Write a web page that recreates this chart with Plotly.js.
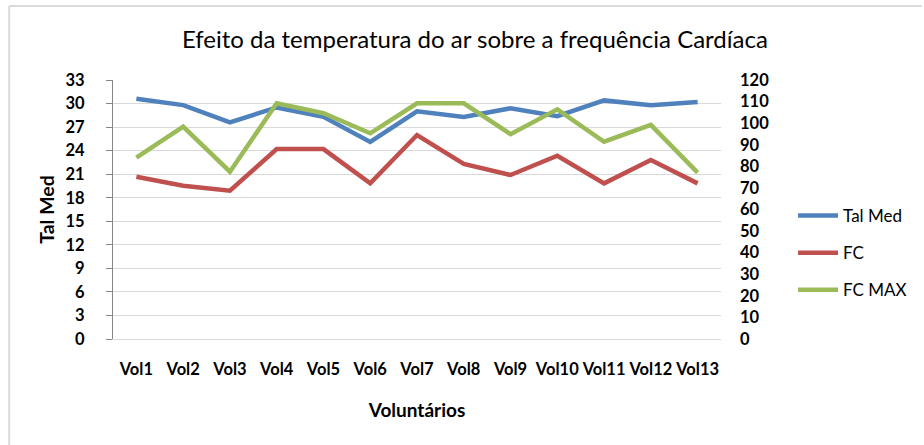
<!DOCTYPE html>
<html>
<head>
<meta charset="utf-8">
<script src="https://cdn.plot.ly/plotly-3.0.1.min.js"></script>
<style>
html,body{margin:0;padding:0;background:#fff;}
#chart{width:924px;height:445px;}
</style>
</head>
<body>
<div id="chart"></div>
<script>
const categories = ["Vol1","Vol2","Vol3","Vol4","Vol5","Vol6","Vol7","Vol8","Vol9","Vol10","Vol11","Vol12","Vol13"];
const talMed = [30.6, 29.8, 27.6, 29.5, 28.3, 25.1, 29.0, 28.3, 29.4, 28.4, 30.4, 29.8, 30.2];
const fc     = [75.2, 71.0, 68.7, 88.0, 88.0, 72.1, 94.5, 81.1, 76.0, 84.9, 72.1, 82.9, 72.1];
const fcMax  = [84.0, 98.4, 77.5, 109.2, 104.6, 95.3, 109.2, 109.2, 94.9, 106.4, 91.4, 99.2, 77.1];

const FONT = "Lato, 'Open Sans', sans-serif";

const traces = [
  {x: categories, y: talMed, name: "Tal Med", type: "scatter", mode: "lines",
   line: {color: "#4F81BD", width: 4.5}, yaxis: "y", legendgroup: "a"},
  {x: categories, y: fc, name: "FC", type: "scatter", mode: "lines",
   line: {color: "#C0504D", width: 4.5}, yaxis: "y2", legendgroup: "b"},
  {x: categories, y: fcMax, name: "FC MAX", type: "scatter", mode: "lines",
   line: {color: "#9BBB59", width: 4.5}, yaxis: "y2", legendgroup: "c"}
];

const layout = {
  width: 924, height: 445,
  margin: {l: 113, r: 196, t: 80, b: 106},
  paper_bgcolor: "#fff", plot_bgcolor: "#fff",
  font: {family: FONT, color: "#000"},
  showlegend: true,
  title: {text: "Efeito da temperatura do ar sobre a frequência Cardíaca",
          font: {family: FONT, size: 24, color: "#000"},
          x: 0.514, xanchor: "center", y: 0.912, yanchor: "middle"},
  xaxis: {type: "category", range: [-0.5, 12.5], showgrid: false, zeroline: false,
          showline: true, linecolor: "#d9d9d9", linewidth: 1, ticks: "",
          tickfont: {family: FONT, size: 16.5, color: "#000", weight: "bold"},
          ticklabelstandoff: 15,
          title: {text: "Voluntários", font: {family: FONT, size: 19, color: "#000", weight: "bold"}, standoff: 25}},
  yaxis: {range: [0, 33], dtick: 3, showgrid: true, gridcolor: "#d9d9d9", gridwidth: 1,
          zeroline: false, showline: true, linecolor: "#868686", linewidth: 1,
          ticks: "outside", ticklen: 6, tickcolor: "#868686",
          ticklabelstandoff: 18,
          tickfont: {family: FONT, size: 16.5, color: "#000", weight: "bold"},
          title: {text: "Tal Med", font: {family: FONT, size: 19.5, color: "#000", weight: "bold"}, standoff: 5}},
  yaxis2: {range: [0, 120], dtick: 10, overlaying: "y", side: "right", showgrid: false,
           zeroline: false, showline: false, ticks: "",
           ticklabelstandoff: 18,
           tickfont: {family: FONT, size: 16.5, color: "#000", weight: "bold"}},
  legend: {x: 1.1185, xanchor: "left", y: 0.332, yanchor: "middle",
           font: {family: FONT, size: 17, color: "#000"},
           tracegroupgap: 12, bgcolor: "rgba(0,0,0,0)", itemwidth: 40},
  shapes: [
    {type: "line", xref: "paper", yref: "paper", x0: -0.1707, x1: 1.33, y0: 1.2857, y1: 1.2857,
     line: {color: "#d9d9d9", width: 2}},
    {type: "line", xref: "paper", yref: "paper", x0: -0.1707, x1: -0.1707, y0: 1.2857, y1: -0.45,
     line: {color: "#d9d9d9", width: 2}}
  ]
};

Plotly.newPlot("chart", traces, layout, {displayModeBar: false, staticPlot: true});
</script>
</body>
</html>
